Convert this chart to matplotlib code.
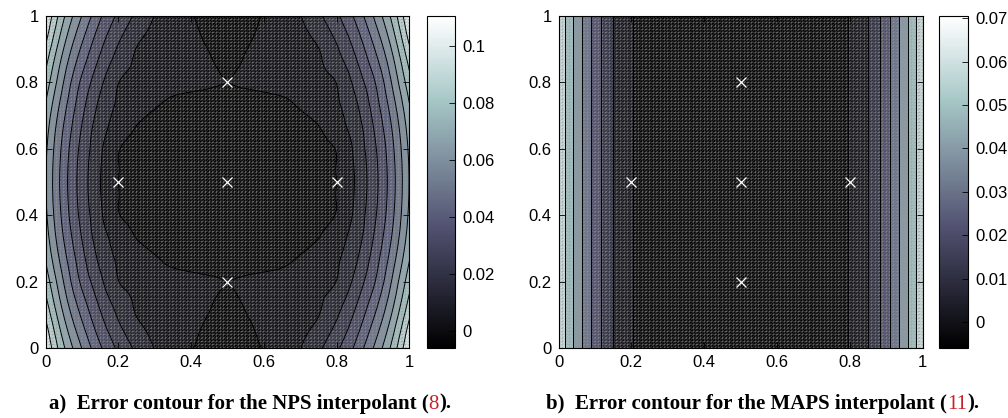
import numpy as np
import matplotlib
matplotlib.use("Agg")
import matplotlib.pyplot as plt
import matplotlib.tri as mtri
from matplotlib.colors import Normalize
from matplotlib.cm import ScalarMappable
from matplotlib.ticker import FuncFormatter

# interpolation nodes (white crosses)
node_x = [0.2, 0.5, 0.8, 0.5, 0.5]
node_y = [0.5, 0.5, 0.5, 0.2, 0.8]

# NPS error, read off the picture on the lower-left quarter
# rows: y = 0, 0.05, ..., 0.5 ; cols: x = 0, 0.05, ..., 0.5 (field is symmetric)
nps_quarter = np.array([
    [0.1105, 0.0813, 0.0596, 0.0414, 0.0280, 0.0178, 0.0097, 0.0051, 0.0005, -0.0020, -0.0035],
    [0.1050, 0.0754, 0.0537, 0.0360, 0.0232, 0.0134, 0.0080, 0.0048, 0.0016, -0.0015, -0.0027],
    [0.0980, 0.0695, 0.0480, 0.0312, 0.0186, 0.0097, 0.0072, 0.0047, 0.0022, -0.0002, -0.0015],
    [0.0915, 0.0641, 0.0427, 0.0267, 0.0146, 0.0089, 0.0069, 0.0048, 0.0028, 0.0008, -0.0008],
    [0.0860, 0.0595, 0.0377, 0.0224, 0.0102, 0.0078, 0.0058, 0.0040, 0.0023, 0.0008, 0.0000],
    [0.0810, 0.0553, 0.0343, 0.0188, 0.0091, 0.0058, 0.0024, -0.0008, -0.0018, -0.0018, -0.0012],
    [0.0770, 0.0515, 0.0313, 0.0160, 0.0073, 0.0021, -0.0012, -0.0028, -0.0035, -0.0033, -0.0025],
    [0.0740, 0.0485, 0.0287, 0.0136, 0.0049, -0.0012, -0.0035, -0.0045, -0.0045, -0.0038, -0.0028],
    [0.0720, 0.0463, 0.0268, 0.0118, 0.0006, -0.0030, -0.0048, -0.0055, -0.0052, -0.0040, -0.0025],
    [0.0708, 0.0450, 0.0256, 0.0107, 0.0002, -0.0034, -0.0053, -0.0058, -0.0050, -0.0032, -0.0012],
    [0.0705, 0.0445, 0.0252, 0.0102, 0.0000, -0.0035, -0.0055, -0.0060, -0.0050, -0.0025, -0.0003],
])

# MAPS error, depends on x only; x = 0, 0.025, ..., 0.5 (mirrored to 1)
maps_half = [0.0705, 0.0565, 0.0457, 0.0352, 0.0254, 0.0169, 0.0100, 0.0052, 0.0004,
             -0.0022, -0.0038, -0.0049, -0.0056, -0.0059, -0.0060, -0.0058, -0.0052,
             -0.0043, -0.0030, -0.0016, -0.0008]

nps_levels = [0, 0.01, 0.02, 0.03, 0.04, 0.05, 0.06, 0.07, 0.08, 0.09, 0.10]
maps_levels = [0, 0.01, 0.02, 0.03, 0.04, 0.05, 0.06]
nps_clim = (-0.006, 0.1105)
maps_clim = (-0.006, 0.0705)
nps_cticks = [0, 0.02, 0.04, 0.06, 0.08, 0.1]
maps_cticks = [0, 0.01, 0.02, 0.03, 0.04, 0.05, 0.06, 0.07]


def grid_tri(n):
    g = np.linspace(0, 1, n)
    X, Y = np.meshgrid(g, g)
    tris = []
    for j in range(n - 1):
        for i in range(n - 1):
            k = j * n + i
            tris.append([k, k + 1, k + n + 1])
            tris.append([k, k + n + 1, k + n])
    return mtri.Triangulation(X.ravel(), Y.ravel(), np.array(tris))


def band_colors(levels, clim):
    norm = Normalize(*clim)
    lowers = [clim[0]] + list(levels)
    return [plt.cm.bone(norm(v)) for v in lowers]


def style_axes(ax):
    ax.set_xlim(0, 1)
    ax.set_ylim(0, 1)
    ax.set_xticks([0, 0.2, 0.4, 0.6, 0.8, 1])
    ax.set_yticks([0, 0.2, 0.4, 0.6, 0.8, 1])
    fmt = FuncFormatter(lambda v, p: '%g' % v)
    ax.xaxis.set_major_formatter(fmt)
    ax.yaxis.set_major_formatter(fmt)
    ax.tick_params(direction='in', top=True, right=True, length=4, width=0.6,
                   labelsize=12, pad=5)
    for s in ax.spines.values():
        s.set_linewidth(0.8)


def add_cbar(fig, rect, clim, ticks):
    cax = fig.add_axes(rect)
    sm = ScalarMappable(norm=Normalize(*clim), cmap='bone')
    cb = fig.colorbar(sm, cax=cax, ticks=ticks)
    cb.ax.yaxis.set_major_formatter(FuncFormatter(lambda v, p: '%g' % v))
    cb.ax.tick_params(direction='in', length=4, width=0.6, labelsize=12, pad=5)
    cb.outline.set_linewidth(0.8)
    return cb


def caption(fig, x, y, prefix, ref, suffix):
    font = dict(family='Liberation Serif', size=15)
    t1 = fig.text(x, y, prefix, ha='left', va='baseline', weight='bold', **font)
    a2 = plt.annotate(ref, xy=(1, 0), xycoords=t1, ha='left', va='bottom',
                      color='#c8202a', annotation_clip=False, **font)
    plt.annotate(suffix, xy=(1, 0), xycoords=a2, ha='left', va='bottom',
                 weight='bold', annotation_clip=False, **font)


plt.rcParams['font.family'] = ['Liberation Sans', 'DejaVu Sans']

fig = plt.figure(figsize=(10.08, 4.18), dpi=100)

mesh = grid_tri(101)

# ---- a) NPS
full = np.vstack([nps_quarter, nps_quarter[-2::-1]])
full = np.hstack([full, full[:, -2::-1]])
base = grid_tri(full.shape[0])
interp = mtri.CubicTriInterpolator(base, full.ravel(), kind='min_E')
refiner = mtri.UniformTriRefiner(base)
tri_f, z_f = refiner.refine_field(full.ravel(), triinterpolator=interp, subdiv=3)

ax1 = fig.add_axes([0.0453, 0.1675, 0.3607, 0.794])
fill_lv = [nps_clim[0] - 1] + nps_levels + [nps_clim[1] + 1]
ax1.tricontourf(tri_f, z_f, levels=fill_lv, colors=band_colors(nps_levels, nps_clim))
ax1.tricontour(tri_f, z_f, levels=nps_levels, colors='k', linewidths=0.7)
ax1.triplot(mesh, color='0.6', lw=0.3, alpha=0.65)
ax1.plot(node_x, node_y, 'x', color='w', ms=7, mew=0.9)
style_axes(ax1)
add_cbar(fig, [0.4236, 0.1675, 0.0278, 0.794], nps_clim, nps_cticks)

# ---- b) MAPS
maps_prof = np.array(maps_half + maps_half[-2::-1])
mx = np.linspace(0, 1, len(maps_prof))
my = [0, 1]
mz = np.vstack([maps_prof, maps_prof])

ax2 = fig.add_axes([0.5542, 0.1675, 0.3611, 0.794])
fill_lv = [maps_clim[0] - 1] + maps_levels + [maps_clim[1] + 1]
ax2.contourf(mx, my, mz, levels=fill_lv, colors=band_colors(maps_levels, maps_clim))
ax2.contour(mx, my, mz, levels=maps_levels, colors='k', linewidths=0.7)
ax2.triplot(mesh, color='0.6', lw=0.3, alpha=0.65)
ax2.plot(node_x, node_y, 'x', color='w', ms=7, mew=0.9)
style_axes(ax2)
add_cbar(fig, [0.9315, 0.1675, 0.0288, 0.794], maps_clim, maps_cticks)

caption(fig, 0.0486, 0.022, 'a)  Error contour for the NPS interpolant (', '8', ').')
caption(fig, 0.5417, 0.022, 'b)  Error contour for the MAPS interpolant (', '11', ').')

plt.savefig('out.png', dpi=100)
